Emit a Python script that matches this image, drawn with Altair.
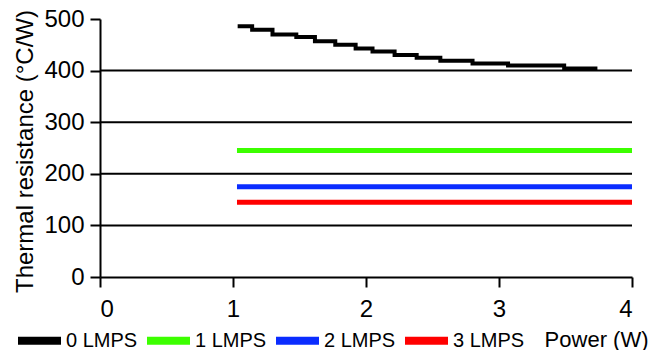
import altair as alt
import pandas as pd

FONT = "Liberation Sans"

# Black series (0 LMPS): step starts and values, plus end point
lmps0_x = [1.035, 1.144, 1.297, 1.476, 1.616, 1.769, 1.922, 2.049, 2.215, 2.381, 2.559, 2.801, 3.068, 3.490, 3.74]
lmps0_y = [486, 479, 470, 465, 457, 450, 443, 437, 430, 425, 419, 414, 410, 404, 404]

flat_x = [1.03, 4.0]
lmps1_y = [245, 245]
lmps2_y = [175, 175]
lmps3_y = [145, 145]

series = ["0 LMPS", "1 LMPS", "2 LMPS", "3 LMPS"]
colors = ["#000000", "#3cff00", "#0a2cff", "#ff0000"]
grid_values = [100, 200, 300, 400]

df0 = pd.DataFrame({"x": lmps0_x, "y": lmps0_y, "s": series[0]})
df_flat = pd.concat([
    pd.DataFrame({"x": flat_x, "y": lmps1_y, "s": series[1]}),
    pd.DataFrame({"x": flat_x, "y": lmps2_y, "s": series[2]}),
    pd.DataFrame({"x": flat_x, "y": lmps3_y, "s": series[3]}),
])
df_grid = pd.DataFrame({"g": grid_values})

xscale = alt.Scale(domain=[0, 4], nice=False)
yscale = alt.Scale(domain=[0, 500], nice=False)

color = alt.Color(
    "s:N",
    scale=alt.Scale(domain=series, range=colors),
    legend=alt.Legend(
        title=None, orient="none", legendX=-86, legendY=296,
        direction="horizontal", symbolType="stroke", symbolStrokeWidth=8,
        symbolSize=1849, labelFont=FONT, labelFontSize=20, labelColor="black",
        labelOffset=1, columnPadding=-7, padding=0, symbolOpacity=1,
    ),
)

xaxis = alt.Axis(
    values=[0, 1, 2, 3, 4], title="Power (W)", labelFontSize=24, labelPadding=10,
    titleX=548, titleY=62, titleAlign="right", titleBaseline="middle",
    titleFontSize=22, grid=False,
)
yaxis = alt.Axis(
    values=[0, 100, 200, 300, 400, 500], title="Thermal resistance (°C/W)",
    labelFontSize=24, labelPadding=6, titleX=-68, titleY=132, titleAngle=270,
    titleAlign="center", titleBaseline="alphabetic", titleFontSize=24, grid=False,
)

grid = alt.Chart(df_grid).mark_rule(color="black", strokeWidth=2).encode(
    y=alt.Y("g:Q", scale=yscale, axis=yaxis),
)

line0 = alt.Chart(df0).mark_line(strokeWidth=4, interpolate="step-after").encode(
    x=alt.X("x:Q", scale=xscale, axis=xaxis),
    y=alt.Y("y:Q", scale=yscale, axis=yaxis),
    color=color,
)

lines = alt.Chart(df_flat).mark_line(strokeWidth=5).encode(
    x=alt.X("x:Q", scale=xscale, axis=xaxis),
    y=alt.Y("y:Q", scale=yscale, axis=yaxis),
    color=color,
    detail="s:N",
)

chart = alt.layer(grid, line0, lines).properties(
    width=532, height=258,
    padding={"left": 92, "top": 11, "right": 17, "bottom": 73},
    autosize=alt.AutoSizeParams(type="none"),
).configure_view(stroke=None).configure_axis(
    domainColor="black", domainWidth=2, tickColor="black", tickWidth=2, tickSize=10,
    labelFont=FONT, labelColor="black", titleFont=FONT, titleColor="black",
    titleFontWeight="normal",
)

chart.save("out.html", embed_options={"renderer": "svg", "actions": False})
